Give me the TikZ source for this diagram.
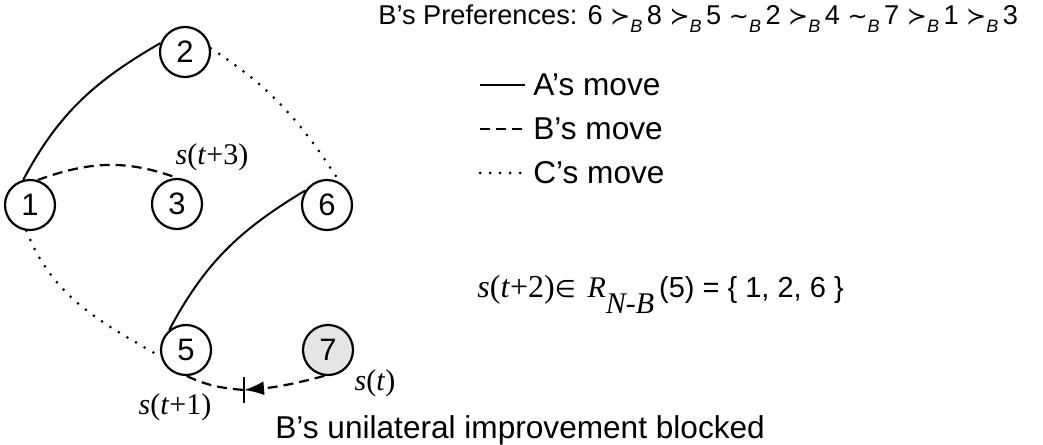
\documentclass[tikz,border=0pt]{standalone}
\usepackage{fontspec}
\setmainfont{Liberation Sans}
\newfontfamily\timesf{Liberation Serif}
\newfontfamily\symf{DejaVu Sans}
\usetikzlibrary{arrows.meta,positioning}

\newcommand{\prefrel}[1]{{\symf\fontsize{12}{14}\selectfont #1}\raisebox{-4pt}{\fontsize{9}{10}\selectfont\itshape B}\,}

\begin{document}
\begin{tikzpicture}[
    x=0.5pt, y=0.5pt,
    font=\fontsize{15.8}{18}\selectfont,
    state/.style={
        circle,
        draw=black,
        line width=1.1pt,
        minimum size=25pt,
        inner sep=0pt,
        font=\fontsize{15.5}{17}\selectfont
    },
    current/.style={state, fill=black!10},
    amove/.style={line width=1pt},
    bmove/.style={line width=1.1pt, dash pattern=on 5pt off 3pt},
    cmove/.style={line width=1.5pt, dash pattern=on 0pt off 5pt, line cap=round},
    slabel/.style={font=\timesf\fontsize{15}{17}\selectfont, inner sep=0pt},
    txt/.style={inner sep=0pt, anchor=base west}
]
\useasboundingbox (0,0) rectangle (1043,-444);

% states
\node[state] (n1) at (30,-205) {1};
\node[state] (n2) at (185,-52) {2};
\node[state] (n3) at (177,-204) {3};
\node[state] (n6) at (327,-205) {6};
\node[state] (n5) at (186,-350) {5};
\node[current] (n7) at (328,-350) {7};
\coordinate (blk) at (244,-390);

% moves
\draw[amove] (n1.105) to[out=62,in=210] (n2.160);
\draw[bmove] (n1.73) to[out=20,in=160] (n3.90);
\draw[cmove] (n2.8) to[out=-33,in=123] (n6.60);
\draw[amove] (n6.146) to[out=211,in=62] (n5.130);
\draw[cmove] (n1.262) to[out=-68,in=150] (n5.195);
\draw[bmove] (n5.272) to[out=-25,in=175] (blk);
\draw[bmove,-{Latex[length=10pt,width=7pt]}] (n7.262) to[out=195,in=5] (blk);
\draw[line width=1.1pt] ([yshift=-6.5pt]blk) -- ([yshift=6.5pt]blk);

% state labels
\node[slabel] (st3) at (212,-157) {\textit{s}(\textit{t}+3)};
\node[slabel] (st0) at (375,-383) {\textit{s}(\textit{t})};
\node[slabel] (st1) at (175,-407) {\textit{s}(\textit{t}+1)};

% preferences and legend
\node[txt, font=\fontsize{13.6}{16}\selectfont] (pref) at (378,-25) {B’s Preferences: 6 \prefrel{≻}8 \prefrel{≻}5 \prefrel{∼}2 \prefrel{≻}4 \prefrel{∼}7 \prefrel{≻}1 \prefrel{≻}3};

\node[inner sep=0pt, anchor=west] (lega) at (533,-85) {A’s move};
\node[inner sep=0pt, anchor=west] (legb) at (533,-129) {B’s move};
\node[inner sep=0pt, anchor=west] (legc) at (533,-173) {C’s move};
\draw[amove] ([xshift=-26.5pt]lega.west) -- ([xshift=-4pt]lega.west);
\draw[bmove] ([xshift=-26.5pt]legb.west) -- ([xshift=-4pt]legb.west);
\draw[cmove] ([xshift=-26.5pt]legc.west) -- ([xshift=-4pt]legc.west);

\node[txt, font=\fontsize{14.5}{17}\selectfont] (reach) at (477,-297) {{\timesf\fontsize{16}{18}\selectfont\textit{s}(\textit{t}+2)}{\symf\fontsize{12}{14}\selectfont ∈}\hspace{6pt}{\timesf\fontsize{15}{17}\selectfont\textit{R}\raisebox{-8pt}{\textit{N-B}}}\,(5) = \{ 1, 2, 6 \}};

\node[txt] (blocked) at (275,-438) {B’s unilateral improvement blocked};

\end{tikzpicture}
\end{document}
